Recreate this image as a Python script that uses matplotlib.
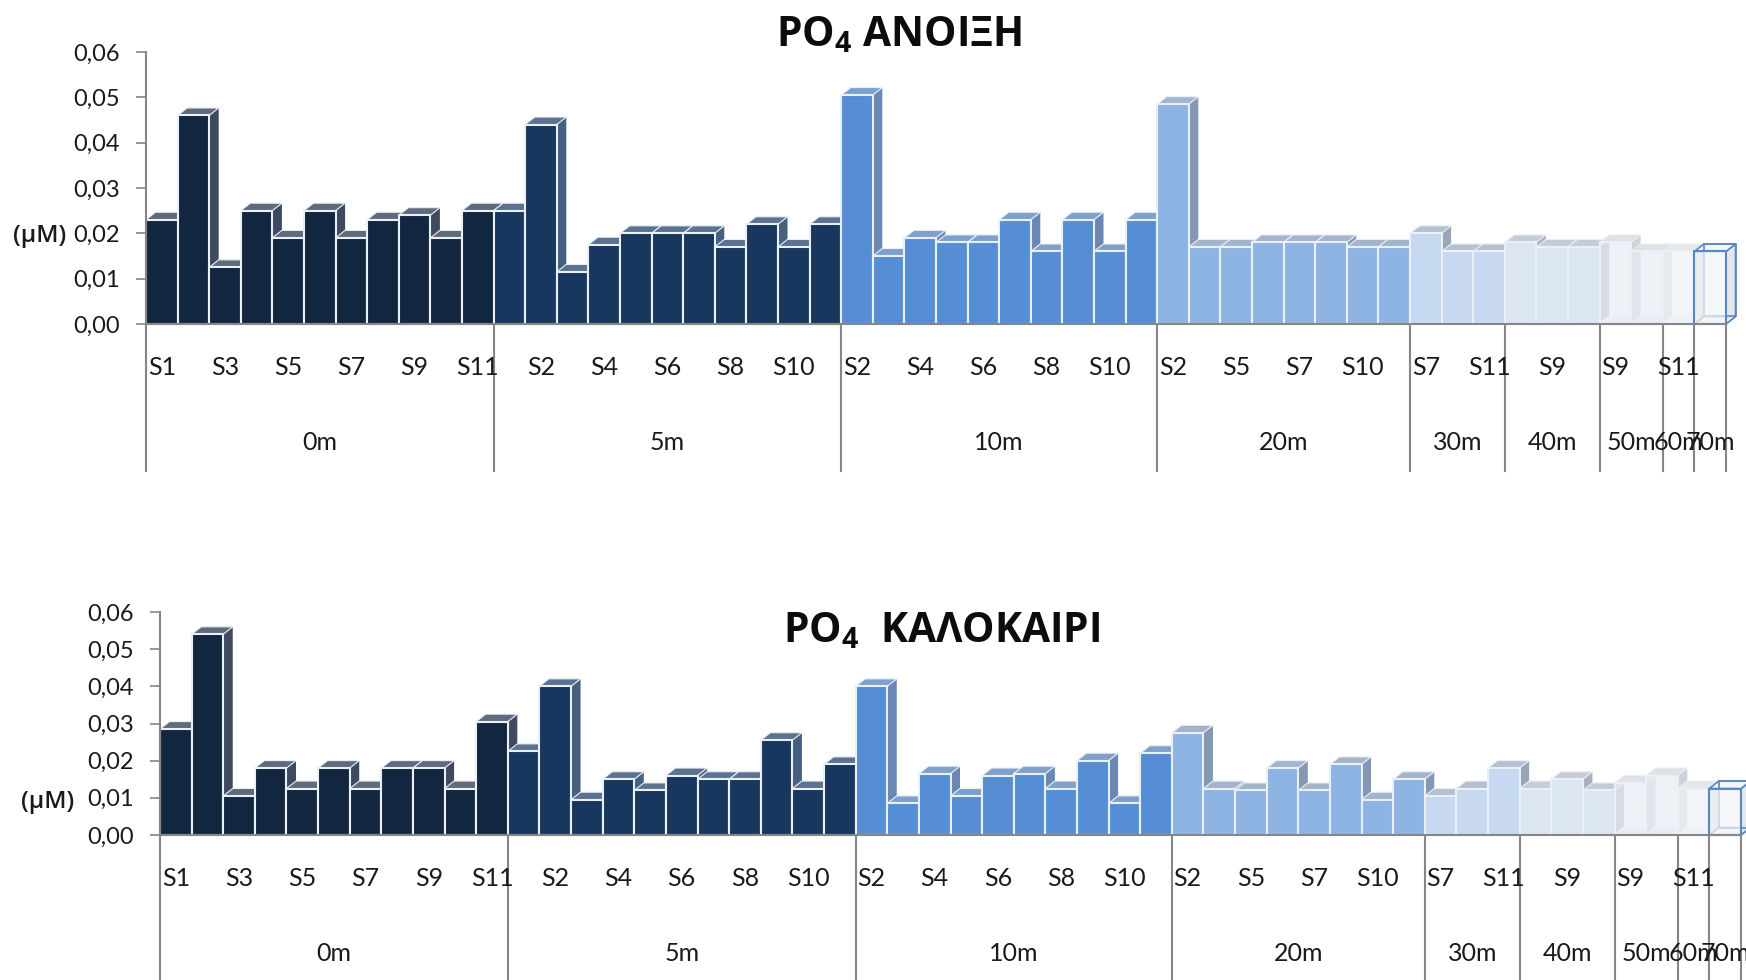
import matplotlib
matplotlib.use("Agg")
import matplotlib.pyplot as plt
from matplotlib.patches import Polygon, Rectangle
from matplotlib.transforms import blended_transform_factory

plt.rcParams['font.family'] = ['Lato', 'Open Sans', 'DejaVu Sans']
plt.rcParams['mathtext.default'] = 'regular'

W, H = 1746, 980

depths = ['0m', '5m', '10m', '20m', '30m', '40m', '50m', '60m', '70m']
# tick label of each bar; empty where the chart skips the label
stations = [
    ['S1','','S3','','S5','','S7','','S9','','S11'],
    ['','S2','','S4','','S6','','S8','','S10',''],
    ['S2','','S4','','S6','','S8','','S10',''],
    ['S2','','S5','','S7','','S10',''],
    ['S7','','S11'],
    ['','S9',''],
    ['S9',''],
    ['S11'],
    [''],
]
spring = [
    [.023,.046,.0125,.025,.019,.025,.019,.023,.024,.019,.025],
    [.025,.044,.0115,.0175,.02,.02,.02,.017,.022,.017,.022],
    [.0505,.015,.019,.018,.018,.023,.016,.023,.016,.023],
    [.0485,.017,.017,.018,.018,.018,.017,.017],
    [.02,.016,.016],
    [.018,.017,.017],
    [.018,.016],
    [.016],
    [.016],
]
summer = [
    [.0285,.054,.0105,.018,.0125,.018,.0125,.018,.018,.0125,.0305],
    [.0225,.04,.0095,.015,.012,.016,.015,.015,.0255,.0125,.019],
    [.04,.0085,.0165,.0105,.016,.0165,.0125,.02,.0085,.022],
    [.0275,.0125,.012,.018,.012,.019,.0095,.015],
    [.0105,.0125,.018],
    [.0125,.015,.012],
    [.014,.016],
    [.0125],
    [.0125],
]
front_colors = ['#12263f', '#17375e', '#558ed5', '#8eb4e3', '#c6d9f1', '#dce6f2', '#e8edf5', '#eff2f8', '#f3f5f9']
side_colors = ['#3f4a60', '#47607f', '#6b87b3', '#8498b3', '#9aa5b5', '#a9b0ba', '#cfd3d9', '#d8dbe0', '#e4e8ee']
top_colors = ['#5f6b7c', '#5b7290', '#80a0cc', '#a4b4cc', '#b5c0d0', '#c6ccd6', '#dfe1e5', '#e6e7ea', '#f3f5f9']
yticks = [0, .01, .02, .03, .04, .05, .06]
ytick_labels = ['0,00', '0,01', '0,02', '0,03', '0,04', '0,05', '0,06']

GREY = '#868686'
EDGE = '#e9f0f7'
BLUE = '#5a88bd'
DX, DY = 9.5, 7.5   # depth of the 3-D boxes, in pixels


def draw_panel(values, left, width, top, bottom, title, title_xy, unit_xy, rule_px):
    ax = fig.add_axes([left / W, 1 - bottom / H, width / W, (bottom - top) / H])
    ax.patch.set_alpha(0)
    n = sum(len(g) for g in values)
    ax.set_xlim(0, n)
    ax.set_ylim(0, 0.06)
    ddx = DX * n / width
    ddy = DY * 0.06 / (bottom - top)

    ticks, labels, edges = [], [], [0]
    pos = 0
    for g, group in enumerate(values):
        start = pos
        ghost = g == len(values) - 1
        for b, v in enumerate(group):
            x0, x1 = pos, pos + 1
            zf = 2 + pos * 0.01
            line = BLUE if ghost else 'none'
            if g >= 6:
                ax.add_patch(Polygon([(x0, 0), (x1, 0), (x1 + ddx, ddy), (x0 + ddx, ddy)],
                                     fc=front_colors[g], ec=BLUE if ghost else '#f7f8fb',
                                     lw=1.2, zorder=zf, clip_on=False))
            ax.add_patch(Polygon([(x1, 0), (x1 + ddx, ddy), (x1 + ddx, v + ddy), (x1, v)],
                                 fc=side_colors[g], ec=line, lw=1.2, zorder=zf, clip_on=False))
            ax.add_patch(Polygon([(x0, v), (x0 + ddx, v + ddy), (x1 + ddx, v + ddy), (x1, v)],
                                 fc=top_colors[g], ec=BLUE if ghost else EDGE, lw=1.2 if ghost else 0.8,
                                 zorder=zf, clip_on=False))
            if ghost:
                ax.add_patch(Rectangle((x0 + ddx, ddy), 1, v, fc='none', ec=BLUE, lw=1.2,
                                       zorder=zf, clip_on=False))
            alpha = 0.72 if g >= 6 else 1
            ax.add_patch(Rectangle((x0, 0), 1, v, fc=front_colors[g], ec='none', alpha=alpha,
                                   zorder=zf, clip_on=False))
            ax.add_patch(Rectangle((x0, 0), 1, v, fc='none', ec=BLUE if ghost else EDGE,
                                   lw=1.5, zorder=zf, clip_on=False))
            if stations[g][b]:
                ticks.append(pos + 0.5)
                labels.append(stations[g][b])
            pos += 1
        edges.append(pos)
        ax.annotate(depths[g], xy=((start + pos) / 2, 0), xytext=(0, -118),
                    textcoords='offset pixels', ha='center', va='center',
                    fontsize=18, color='#1a1a1a', annotation_clip=False)

    trans = blended_transform_factory(ax.transData, ax.transAxes)
    rule = -(rule_px - bottom) / (bottom - top)
    for e in edges:
        ax.plot([e, e], [0, rule], transform=trans, color=GREY, lw=1.5,
                clip_on=False, zorder=1)

    for s in ('top', 'right'):
        ax.spines[s].set_visible(False)
    for s in ('left', 'bottom'):
        ax.spines[s].set_color(GREY)
        ax.spines[s].set_linewidth(1.5)
    ax.spines['bottom'].set_zorder(10)
    ax.set_yticks(yticks, ytick_labels, fontsize=17, color='#1a1a1a')
    ax.tick_params(axis='y', length=7, width=1.2, color=GREY, pad=12)
    ax.set_xticks(ticks, labels, fontsize=18, color='#1a1a1a')
    ax.tick_params(axis='x', length=0, pad=23)

    fig.text(title_xy[0] / W, 1 - title_xy[1] / H, title, ha='center', va='center',
             fontsize=29.3, fontweight='bold', family=['Open Sans', 'DejaVu Sans'], color='#0c0c0c')
    fig.text(unit_xy[0] / W, 1 - unit_xy[1] / H, '(μM)', ha='center', va='center',
             fontsize=17.5, fontweight='semibold', family=['Open Sans', 'DejaVu Sans'], color='#1a1a1a')
    return ax


fig = plt.figure(figsize=(W / 100, H / 100), dpi=100, facecolor='white')
draw_panel(spring, 146, 1580, 52, 324, 'PO$_{4}$ ΑΝΟΙΞΗ', (899, 36), (40, 236), 471)
draw_panel(summer, 160, 1581, 612, 835, 'PO$_{4}$  ΚΑΛΟΚΑΙΡΙ', (942, 632), (48, 802), 1000)
fig.savefig('out.png', dpi=100)
